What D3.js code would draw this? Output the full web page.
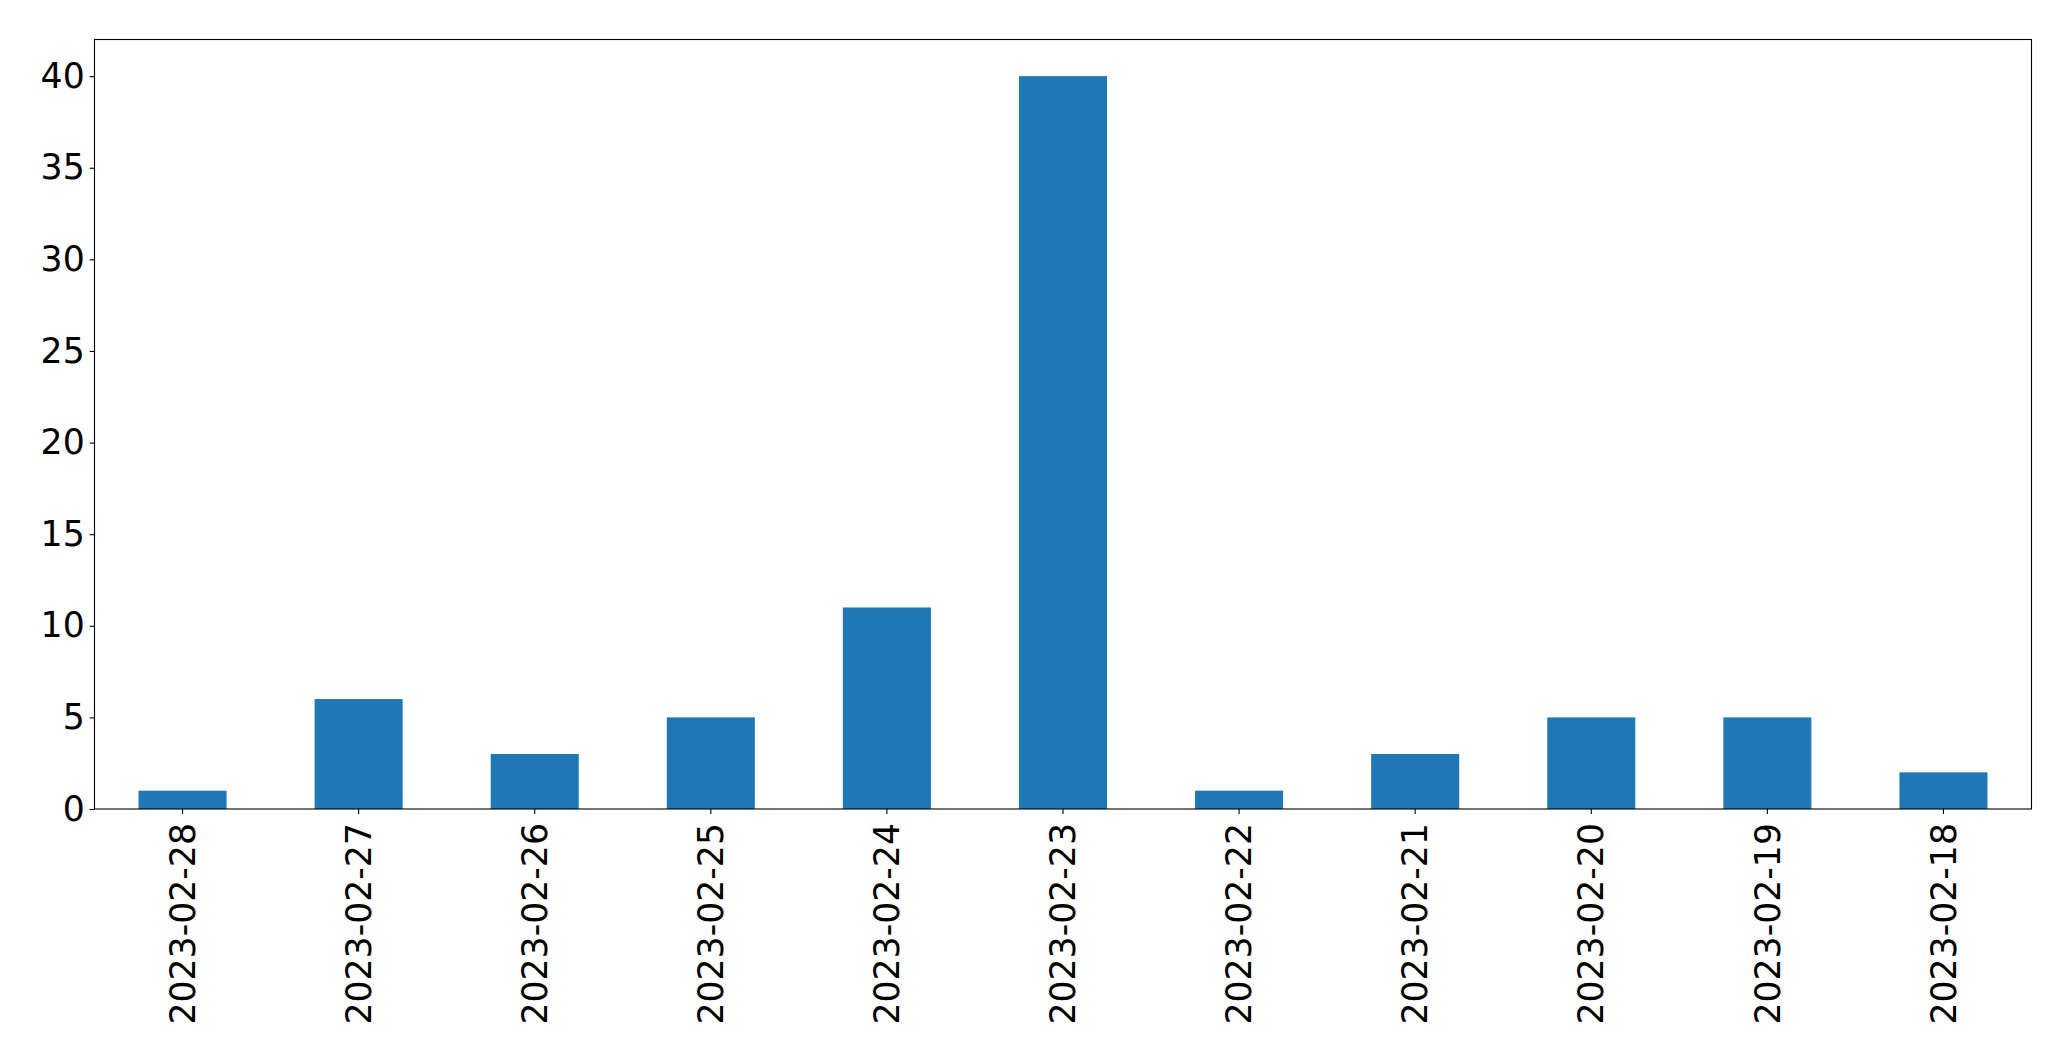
<!DOCTYPE html>
<html>
<head>
<meta charset="utf-8">
<script src="https://cdn.jsdelivr.net/npm/d3@7"></script>
<style>
  html, body { margin: 0; padding: 0; background: #fff; }
  svg { display: block; }
</style>
</head>
<body>
<script>
const categories = ["2023-02-28","2023-02-27","2023-02-26","2023-02-25","2023-02-24","2023-02-23","2023-02-22","2023-02-21","2023-02-20","2023-02-19","2023-02-18"];
const counts = [1, 6, 3, 5, 11, 40, 1, 3, 5, 5, 2];
const yTicks = [0, 5, 10, 15, 20, 25, 30, 35, 40];

(function () {
const W = 2071, H = 1061;
const mLeft = 94.5, mRight = 2031.5, mTop = 39.5, mBottom = 809;
const fontSize = 34.7;

const svg = d3.select("body").append("svg").attr("width", W).attr("height", H);

const x = d3.scaleBand().domain(categories).range([mLeft, mRight]).paddingInner(0.5).paddingOuter(0.25);
const y = d3.scaleLinear().domain([0, 42]).range([mBottom, mTop]);

svg.append("g").selectAll("rect").data(counts).join("rect")
  .attr("x", (d, i) => x(categories[i]))
  .attr("width", x.bandwidth())
  .attr("y", d => y(d))
  .attr("height", d => y(0) - y(d))
  .attr("fill", "#1f77b4");

const yAxis = svg.append("g").attr("transform", `translate(${mLeft},0)`)
  .call(d3.axisLeft(y).tickValues(yTicks).tickSize(4.9).tickPadding(4.9).tickFormat(d3.format("d")));
yAxis.select(".domain").remove();
yAxis.selectAll("line").attr("stroke", "#000").attr("stroke-width", 1.1);
yAxis.selectAll("text").attr("font-family", "DejaVu Sans").attr("font-size", fontSize).attr("fill", "#000");

const xAxis = svg.append("g").attr("transform", `translate(0,${mBottom})`)
  .call(d3.axisBottom(x).tickSize(4.9).tickPadding(0));
xAxis.select(".domain").remove();
xAxis.selectAll("line").attr("stroke", "#000").attr("stroke-width", 1.1);
xAxis.selectAll("text")
  .attr("font-family", "DejaVu Sans").attr("font-size", fontSize).attr("fill", "#000")
  .attr("transform", "rotate(-90)")
  .attr("x", -14).attr("y", 0).attr("dy", "0.35em")
  .attr("text-anchor", "end");

svg.append("rect")
  .attr("x", mLeft).attr("y", mTop)
  .attr("width", mRight - mLeft).attr("height", mBottom - mTop)
  .attr("fill", "none").attr("stroke", "#000").attr("stroke-width", 1.1);
})();
</script>
</body>
</html>
